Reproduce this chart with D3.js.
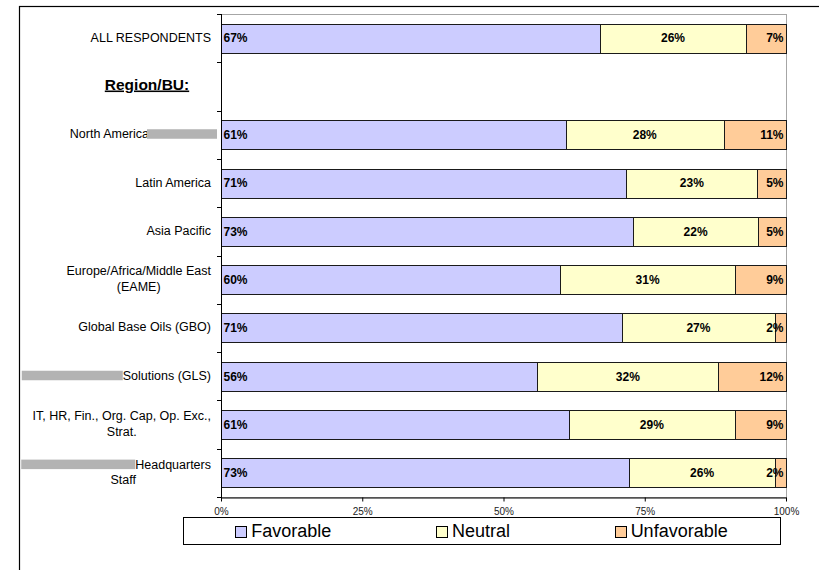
<!DOCTYPE html>
<html>
<head>
<meta charset="utf-8">
<script src="https://cdn.jsdelivr.net/npm/d3@7"></script>
<style>
  html, body { margin: 0; padding: 0; background: #fff; }
  svg { display: block; font-family: "Liberation Sans", Arial, Helvetica, sans-serif; }
</style>
</head>
<body>
<svg id="chart" width="819" height="570"></svg>
<script>
// Survey rows (top to bottom); the "Region/BU:" row is a section heading without a bar.
const categories = [
  "ALL RESPONDENTS",
  "Region/BU:",
  "North America",
  "Latin America",
  "Asia Pacific",
  "Europe/Africa/Middle East (EAME)",
  "Global Base Oils (GBO)",
  "Solutions (GLS)",
  "IT, HR, Fin., Org. Cap, Op. Exc., Strat.",
  "Headquarters Staff"
];
// Printed lines of each row label
const labelLines = [
  ["ALL RESPONDENTS"],
  ["Region/BU:"],
  ["North America"],
  ["Latin America"],
  ["Asia Pacific"],
  ["Europe/Africa/Middle East", "(EAME)"],
  ["Global Base Oils (GBO)"],
  ["Solutions (GLS)"],
  ["IT, HR, Fin., Org. Cap, Op. Exc.,", "Strat."],
  ["Headquarters", "Staff"]
];
const headingRow = "Region/BU:";

// Response shares (%)
const favorable   = [67, null, 61, 71, 73, 60, 71, 56, 61, 73];
const neutral     = [26, null, 28, 23, 22, 31, 27, 32, 29, 26];
const unfavorable = [7,  null, 11,  5,  5,  9,  2, 12,  9,  2];

const seriesNames = ["Favorable", "Neutral", "Unfavorable"];
const seriesColors = ["#CCCCFF", "#FFFFCC", "#FFCC99"];
const xTicks = [0, 0.25, 0.5, 0.75, 1];

// Parts of some row labels are blanked out with grey boxes
const concealed = [
  { row: "North America",      side: "after",  hidden: 62,  box: 70 },
  { row: "Solutions (GLS)",    side: "before", hidden: 0,   box: 101 },
  { row: "Headquarters Staff", side: "before", hidden: 100, box: 114 }
];

const svg = d3.select("#chart");
const plot = { left: 221, right: 786, top: 14, bottom: 497 };
const labelRight = 211;
const labelSize = 12.5;

// Outer frame
svg.append("rect")
  .attr("x", 19.5).attr("y", 6.5)
  .attr("width", 900).attr("height", 700)
  .attr("fill", "none").attr("stroke", "#000").attr("stroke-width", 1.2);

const x = d3.scaleLinear().domain([0, 1]).range([plot.left, plot.right]);
const y = d3.scaleBand().domain(categories)
  .range([plot.top, plot.bottom])
  .paddingInner(0.4).paddingOuter(0.2);

// Plot area border
svg.append("rect")
  .attr("x", plot.left + 0.5).attr("y", plot.top + 0.5)
  .attr("width", plot.right - plot.left).attr("height", plot.bottom - plot.top)
  .attr("fill", "none").attr("stroke", "#a6a6a6").attr("stroke-width", 1);

// Stacked, normalised to 100%
const rows = categories.map((c, i) => ({
  category: c,
  Favorable: favorable[i], Neutral: neutral[i], Unfavorable: unfavorable[i]
})).filter(d => d.Favorable != null);

const stacked = d3.stack().keys(seriesNames).offset(d3.stackOffsetExpand)(rows);

const layers = svg.append("g").selectAll("g")
  .data(stacked).join("g")
  .attr("fill", (d, i) => seriesColors[i]);

layers.selectAll("rect")
  .data(d => d.map(s => ({ s, key: d.key })))
  .join("rect")
  .attr("x", d => Math.round(x(d.s[0])) + 0.5)
  .attr("y", d => Math.round(y(d.s.data.category)) + 0.5)
  .attr("width", d => Math.round(x(d.s[1])) - Math.round(x(d.s[0])))
  .attr("height", Math.round(y.bandwidth()))
  .attr("stroke", "#1a1a1a").attr("stroke-width", 1);

// Value labels
layers.selectAll("text")
  .data(d => d.map(s => ({ s, key: d.key })))
  .join("text")
  .attr("x", d => d.key === "Favorable" ? x(d.s[0]) + 2.5
                : d.key === "Neutral" ? (x(d.s[0]) + x(d.s[1])) / 2
                : x(d.s[1]) - 2.5)
  .attr("y", d => y(d.s.data.category) + y.bandwidth() / 2)
  .attr("dy", "0.36em")
  .attr("text-anchor", d => d.key === "Favorable" ? "start" : d.key === "Neutral" ? "middle" : "end")
  .attr("fill", "#000")
  .attr("font-size", 12).attr("font-weight", "bold")
  .text(d => d.s.data[d.key] + "%");

// Bottom axis
const xAxis = svg.append("g")
  .attr("transform", `translate(0,${plot.bottom + 0.5})`)
  .call(d3.axisBottom(x).tickValues(xTicks).tickFormat(d3.format(".0%")).tickSize(4).tickPadding(6).tickSizeOuter(0));
xAxis.select(".domain").attr("stroke", "#000");
xAxis.selectAll(".tick line").attr("stroke", "#000");
xAxis.selectAll(".tick text").attr("font-size", 10).attr("fill", "#222")
  .attr("font-family", "'Liberation Sans', Arial, sans-serif");

// Left axis: line and tick marks on band boundaries
const gap = (y.step() - y.bandwidth()) / 2;
const bounds = categories.map(c => y(c) - gap).concat([plot.bottom]);
svg.append("line")
  .attr("x1", plot.left + 0.5).attr("x2", plot.left + 0.5)
  .attr("y1", plot.top).attr("y2", plot.bottom + 1)
  .attr("stroke", "#000");
svg.append("g").selectAll("line").data(bounds).join("line")
  .attr("x1", plot.left - 4).attr("x2", plot.left + 1)
  .attr("y1", d => Math.round(d) + 0.5).attr("y2", d => Math.round(d) + 0.5)
  .attr("stroke", "#000");

// Row labels
const lineH = 15.5;
const labelsG = svg.append("g");
categories.forEach((c, i) => {
  const cy = y(c) + y.bandwidth() / 2;
  const lines = labelLines[i];
  if (c === headingRow) {
    labelsG.append("text")
      .attr("x", 147).attr("y", cy - 2.5).attr("dy", "0.36em")
      .attr("text-anchor", "middle")
      .attr("font-size", 15.5).attr("font-weight", "bold")
      .attr("text-decoration", "underline")
      .text(lines[0]);
    return;
  }
  const cover = concealed.find(k => k.row === c);
  const top = cy - 1 - (lines.length - 1) * lineH / 2;
  // first line, right aligned (with room kept for any blanked part)
  const endX = cover && cover.side === "after" ? labelRight - cover.hidden : labelRight;
  const first = labelsG.append("text")
    .attr("x", endX).attr("y", top).attr("dy", "0.36em")
    .attr("text-anchor", "end").attr("font-size", labelSize).attr("fill", "#000")
    .text(lines[0]);
  const w1 = first.node().getComputedTextLength();
  const full = w1 + (cover ? cover.hidden : 0);
  const centre = labelRight - full / 2;
  for (let k = 1; k < lines.length; k++) {
    labelsG.append("text")
      .attr("x", centre).attr("y", top + k * lineH).attr("dy", "0.36em")
      .attr("text-anchor", "middle").attr("font-size", labelSize).attr("fill", "#000")
      .text(lines[k]);
  }
  if (lines.length > 1 && !cover) {
    // multi-line labels are centred as a block
    first.attr("x", centre).attr("text-anchor", "middle");
  }
  if (cover) {
    const start = endX - w1;
    const bx = cover.side === "after" ? endX - 2 : start - cover.box;
    labelsG.append("rect")
      .attr("x", bx).attr("y", top - 4.5)
      .attr("width", cover.box).attr("height", 9.5)
      .attr("fill", "#b3b3b3");
  }
});

// Legend
const legend = { x: 183, y: 517, w: 597, h: 27, marker: 11, gap: 5 };
svg.append("rect")
  .attr("x", legend.x + 0.5).attr("y", legend.y + 0.5)
  .attr("width", legend.w).attr("height", legend.h)
  .attr("fill", "#fff").attr("stroke", "#000").attr("stroke-width", 1);
const items = svg.append("g").selectAll("g").data(seriesNames).join("g");
items.append("text")
  .attr("font-size", 18).attr("fill", "#000")
  .attr("y", legend.y + 19.7)
  .text(d => d);
const widths = items.nodes().map(n => legend.marker + legend.gap + n.querySelector("text").getComputedTextLength());
const space = (legend.w - d3.sum(widths)) / seriesNames.length;
let cursor = legend.x + space / 2;
items.each(function (d, i) {
  const g = d3.select(this);
  g.append("rect")
    .attr("x", Math.round(cursor) + 0.5).attr("y", legend.y + 9.5)
    .attr("width", legend.marker).attr("height", legend.marker)
    .attr("fill", seriesColors[i]).attr("stroke", "#000");
  g.select("text").attr("x", cursor + legend.marker + legend.gap);
  cursor += widths[i] + space;
});
</script>
</body>
</html>
